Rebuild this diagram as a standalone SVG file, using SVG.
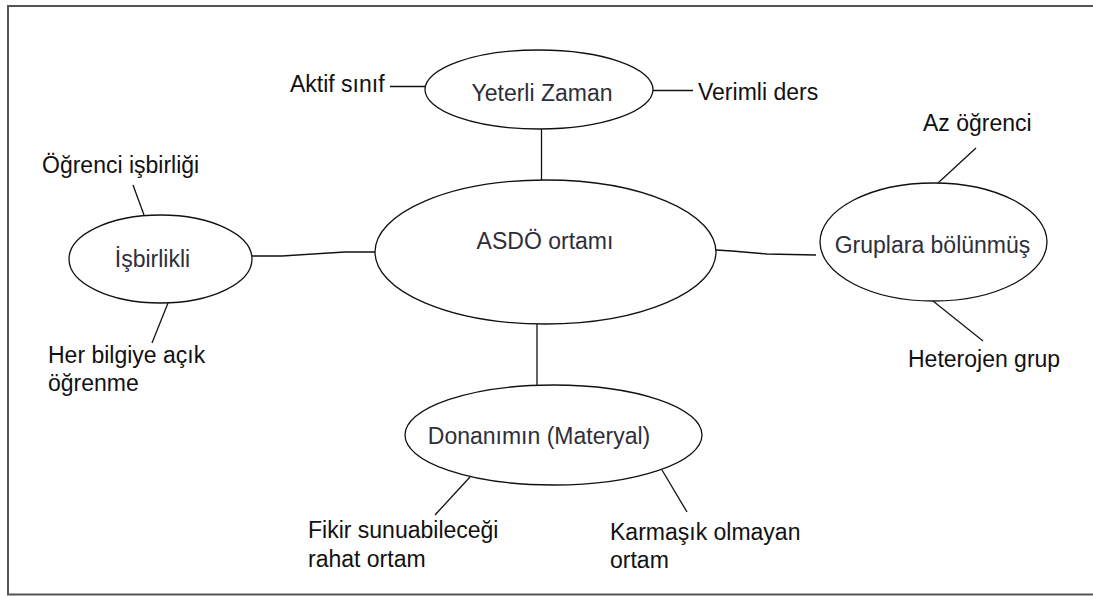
<svg xmlns="http://www.w3.org/2000/svg" width="1093" height="596" viewBox="0 0 1093 596">
  <style>
    .frame { stroke: #555; stroke-width: 2; fill: none; }
    .node { fill: #fff; stroke: #111; stroke-width: 1.3; }
    .edge { fill: none; stroke: #111; stroke-width: 1.3; }
    .ntext { font-family: "Liberation Sans", Arial, sans-serif; font-size: 23px; fill: #2e2e3a; text-anchor: middle; }
    .label { font-family: "Liberation Sans", Arial, sans-serif; font-size: 23px; fill: #111; }
  </style>
  <rect x="0" y="0" width="1093" height="596" fill="#fff"/>
  <!-- page frame: top, left, bottom -->
  <g id="frame">
    <line class="frame" x1="7" y1="6" x2="1093" y2="6"/>
    <line class="frame" x1="8" y1="5" x2="8" y2="595"/>
    <line class="frame" x1="7" y1="594.5" x2="1093" y2="594.5"/>
  </g>

  <g id="connectors">
    <line class="edge" x1="390" y1="86.5" x2="425" y2="86.5"/>
    <line class="edge" x1="653" y1="90.5" x2="693" y2="90.5"/>
    <line class="edge" x1="541.5" y1="129" x2="541.5" y2="180"/>
    <polyline class="edge" points="252,256 282,256 345,252 375,252"/>
    <polyline class="edge" points="716,250 732,251 767,254 816,255"/>
    <line class="edge" x1="537" y1="324" x2="537" y2="385"/>
    <line class="edge" x1="133" y1="185" x2="144" y2="215"/>
    <line class="edge" x1="168" y1="303" x2="152" y2="343"/>
    <line class="edge" x1="976" y1="148" x2="938" y2="183"/>
    <line class="edge" x1="933" y1="301" x2="983" y2="341"/>
    <line class="edge" x1="470" y1="477" x2="435" y2="515"/>
    <line class="edge" x1="662" y1="470" x2="687" y2="512"/>
  </g>

  <g id="node-asdo">
    <ellipse class="node" cx="545.5" cy="252" rx="170.5" ry="72"/>
    <text class="ntext" x="545" y="249">ASDÖ ortamı</text>
  </g>
  <g id="node-yeterli">
    <ellipse class="node" cx="539" cy="89.5" rx="114" ry="39.5"/>
    <text class="ntext" x="542" y="101">Yeterli Zaman</text>
  </g>
  <g id="node-isbirlikli">
    <ellipse class="node" cx="160.5" cy="259" rx="91.5" ry="44"/>
    <text class="ntext" x="152.5" y="267">İşbirlikli</text>
  </g>
  <g id="node-gruplara">
    <ellipse class="node" cx="933.5" cy="242" rx="113.5" ry="59"/>
    <text class="ntext" x="932.5" y="253">Gruplara bölünmüş</text>
  </g>
  <g id="node-donanim">
    <ellipse class="node" cx="553.5" cy="435" rx="148.5" ry="50"/>
    <text class="ntext" x="539" y="444">Donanımın (Materyal)</text>
  </g>

  <g id="labels">
    <text class="label" x="290" y="92">Aktif sınıf</text>
    <text class="label" x="698" y="100">Verimli ders</text>
    <text class="label" x="42" y="173">Öğrenci işbirliği</text>
    <text class="label" x="48" y="362.5">Her bilgiye açık</text>
    <text class="label" x="48" y="390.5">öğrenme</text>
    <text class="label" x="923" y="131">Az öğrenci</text>
    <text class="label" x="908" y="367">Heterojen grup</text>
    <text class="label" x="308" y="538">Fikir sunuabileceği</text>
    <text class="label" x="308" y="567">rahat ortam</text>
    <text class="label" x="610" y="540">Karmaşık olmayan</text>
    <text class="label" x="610" y="568">ortam</text>
  </g>
</svg>
